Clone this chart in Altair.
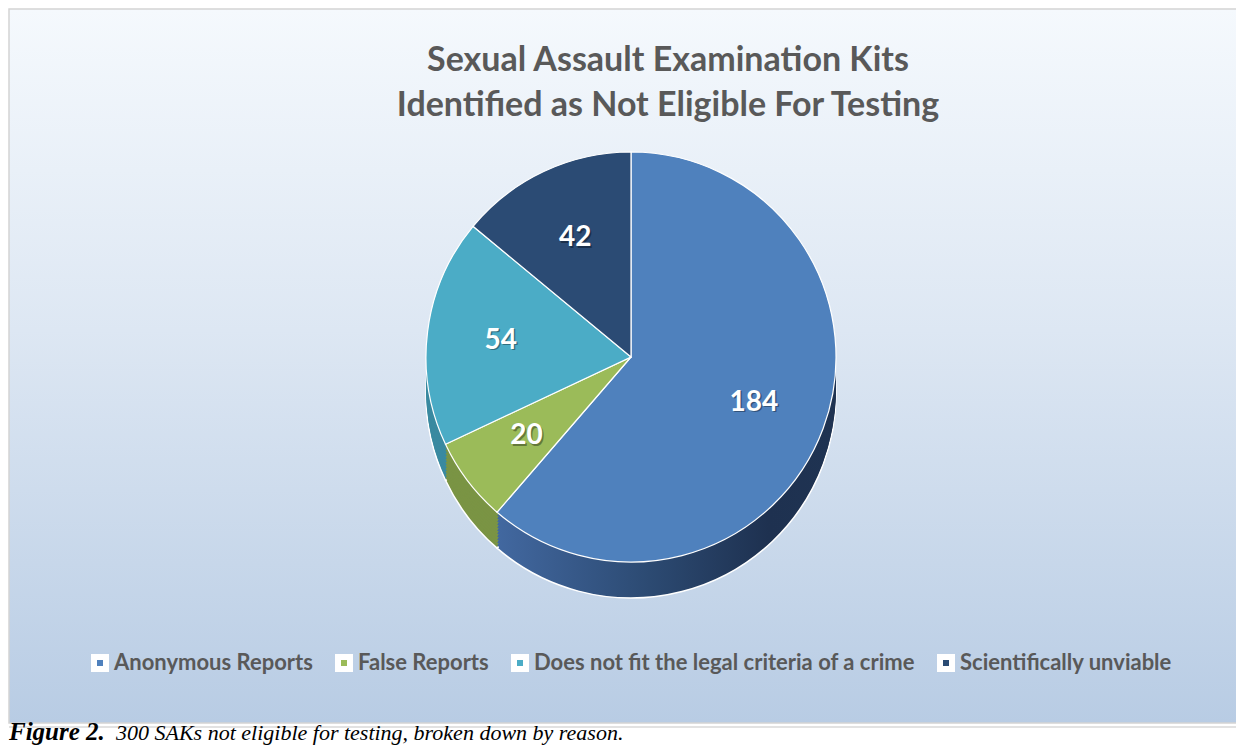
import altair as alt
import pandas as pd

# ---- data ----
categories = [
    "Anonymous Reports",
    "False Reports",
    "Does not fit the legal criteria of a crime",
    "Scientifically unviable",
]
counts = [184, 20, 54, 42]
slice_order = [0, 1, 2, 3]
top_colors = ["#4f81bd", "#9bbb59", "#4bacc6", "#2b4b74"]
side_colors = ["#2f4d72", "#7a9444", "#3a8aa0", "#1d3350"]

title_lines = ["Sexual Assault Examination Kits", "Identified as Not Eligible For Testing"]
caption_bold = "Figure 2."
caption_rest = "300 SAKs not eligible for testing, broken down by reason."

df = pd.DataFrame({
    "reason": categories,
    "count": counts,
    "order": slice_order,
    "side": side_colors,
})

# ---- layout ----
W, H = 1228, 738
FRAME_H = 714
CX, CY, R = 622, 348, 205
DEPTH = 36

one = pd.DataFrame({"a": [0]})

bg = alt.Chart(one).mark_rect(
    fill=alt.LinearGradient(
        gradient="linear",
        stops=[
            alt.GradientStop(color="#f5f9fd", offset=0),
            alt.GradientStop(color="#dde7f3", offset=0.45),
            alt.GradientStop(color="#b8cce4", offset=1),
        ],
        x1=0, x2=0, y1=0, y2=1,
    ),
    stroke="#d4d4d4",
    strokeWidth=1.5,
).encode(x=alt.value(0), x2=alt.value(W), y=alt.value(0), y2=alt.value(FRAME_H))

cap_line = alt.Chart(one).mark_rule(color="#d9d9d9", strokeWidth=1.5).encode(
    x=alt.value(0), x2=alt.value(W), y=alt.value(FRAME_H + 4)
)

theta = alt.Theta("count:Q", stack=True)
order = alt.Order("order:Q", sort="ascending")

anon_side = alt.LinearGradient(
    gradient="linear",
    stops=[
        alt.GradientStop(color="#4268a0", offset=0),
        alt.GradientStop(color="#2c4a72", offset=0.45),
        alt.GradientStop(color="#1e3150", offset=0.8),
        alt.GradientStop(color="#1f3352", offset=1),
    ],
    x1=0, x2=1, y1=0, y2=0,
)

side_color = alt.condition(
    "datum.order == 0",
    alt.value(anon_side),
    alt.Color("side:N", scale=None),
)

side_layers = []
offsets = list(range(DEPTH, 0, -3))
for i, off in enumerate(offsets):
    kw = {}
    if i == 0:
        kw = dict(stroke="#ffffff", strokeWidth=1.5)
    side_layers.append(
        alt.Chart(df).mark_arc(outerRadius=R, **kw).encode(
            theta=theta,
            order=order,
            color=side_color,
            x=alt.value(CX),
            y=alt.value(CY + off),
        )
    )

top = alt.Chart(df).mark_arc(outerRadius=R, stroke="#ffffff", strokeWidth=1.2).encode(
    theta=theta,
    order=order,
    color=alt.Color(
        "reason:N",
        scale=alt.Scale(domain=categories, range=top_colors),
        sort=categories,
        legend=alt.Legend(
            title=None,
            orient="none",
            legendX=80,
            legendY=643,
            direction="horizontal",
            columns=4,
            columnPadding=13,
            labelFont="Lato",
            labelFontSize=22,
            labelFontWeight="bold",
            labelColor="#595959",
            labelLimit=0,
            labelOffset=3,
            symbolType="square",
            symbolSize=144,
            symbolStrokeColor="#ffffff",
            symbolStrokeWidth=6,
        ),
    ),
    x=alt.value(CX),
    y=alt.value(CY),
)

label_shadow = alt.Chart(df).mark_text(
    radius=R * 0.64, font="Lato", fontSize=28, fontWeight="bold", color="#000000",
    opacity=0.35, dx=1.5, dy=1.5,
).encode(theta=theta, order=order, text="count:Q", x=alt.value(CX), y=alt.value(CY))

labels = alt.Chart(df).mark_text(
    radius=R * 0.64, font="Lato", fontSize=28, fontWeight="bold", color="#ffffff"
).encode(theta=theta, order=order, text="count:Q", x=alt.value(CX), y=alt.value(CY))

title = alt.Chart(pd.DataFrame({"t": ["\n".join(title_lines)]})).mark_text(
    font="Lato", fontSize=34, fontWeight="bold", color="#595959",
    lineBreak="\n", lineHeight=45, align="center", baseline="top",
).encode(text="t:N", x=alt.value(659), y=alt.value(35))

cap1 = alt.Chart(pd.DataFrame({"t": [caption_bold]})).mark_text(
    font="Liberation Serif", fontSize=25, fontWeight="bold", fontStyle="italic",
    color="#000000", align="left", baseline="alphabetic",
).encode(text="t:N", x=alt.value(0), y=alt.value(731))

cap2 = alt.Chart(pd.DataFrame({"t": [caption_rest]})).mark_text(
    font="Liberation Serif", fontSize=22, fontStyle="italic",
    color="#000000", align="left", baseline="alphabetic",
).encode(text="t:N", x=alt.value(107), y=alt.value(731))

chart = alt.layer(bg, cap_line, *side_layers, top, label_shadow, labels, title, cap1, cap2).properties(
    width=W,
    height=H,
    padding=0,
    background="#ffffff",
    autosize=alt.AutoSizeParams(type="fit", contains="padding"),
).configure_view(stroke=None)

chart.save("out.html", embed_options={"renderer": "svg", "actions": False})
